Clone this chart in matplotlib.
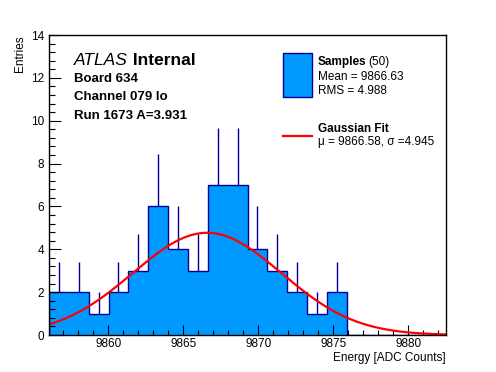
#!/usr/bin/env python3
"""
Pulse energy histogram for one board channel with a Gaussian fit overlay.
"""

import matplotlib
matplotlib.use("Agg")
import matplotlib.pyplot as plt
import numpy as np
from matplotlib.patches import Rectangle
from matplotlib.lines import Line2D
from matplotlib.ticker import MultipleLocator

plt.rcParams['font.family'] = ['Liberation Sans', 'DejaVu Sans']

# histogram binning (20 bins) and entries per bin
x_min = 9856.05
x_max = 9882.5
n_bins = 20
counts = [2, 2, 1, 2, 3, 6, 4, 3, 7, 7, 4, 3, 2, 1, 2, 0, 0, 0, 0, 0]

# gaussian fit parameters
fit_amp = 4.77
fit_mu = 9866.58
fit_sigma = 4.945

# annotation texts
header_lines = ["Board 634", "Channel 079 lo", "Run 1673 A=3.931"]
samples_lines = ["Mean = 9866.63", "RMS = 4.988"]
n_samples = 50
fit_line = "\u03bc = 9866.58, \u03c3 =4.945"

W, H = 496, 372
FILL = '#0099ff'
EDGE = '#000099'


def fx(px):
    return px / W


def fy(py):
    return 1 - py / H


fig = plt.figure(figsize=(W / 100, H / 100), dpi=100)
ax = fig.add_axes([fx(49), fy(335), 397 / W, 300 / H])

edges = np.linspace(x_min, x_max, n_bins + 1)
counts = np.array(counts, dtype=float)
centers = 0.5 * (edges[:-1] + edges[1:])

# filled histogram + outline
ax.stairs(counts, edges, fill=True, color=FILL, baseline=0)
ax.stairs(counts, edges, color=EDGE, linewidth=1.0, baseline=0)

# upper error bars (sqrt N)
nz = counts > 0
ax.vlines(centers[nz], counts[nz], counts[nz] + np.sqrt(counts[nz]),
          color=EDGE, linewidth=1.0)

# gaussian fit curve
xs = np.linspace(x_min, x_max, 200)
ys = fit_amp * np.exp(-0.5 * ((xs - fit_mu) / fit_sigma) ** 2)
ax.plot(xs, ys, color='#ff0000', linewidth=1.6)

ax.set_xlim(x_min, x_max)
ax.set_ylim(0, 14)
ax.xaxis.set_major_locator(MultipleLocator(5))
ax.xaxis.set_minor_locator(MultipleLocator(1))
ax.yaxis.set_major_locator(MultipleLocator(2))
ax.yaxis.set_minor_locator(MultipleLocator(0.4))
ax.tick_params(axis='both', which='both', direction='in', top=False, right=False,
               labelsize=8.5, width=0.8)
ax.tick_params(axis='x', which='major', length=7.2, pad=2.0)
ax.tick_params(axis='x', which='minor', length=3.6)
ax.tick_params(axis='y', which='major', length=8.6, pad=3.5)
ax.tick_params(axis='y', which='minor', length=4.3)
for s in ax.spines.values():
    s.set_linewidth(1.0)

# axis titles
fig.text(fx(446), fy(358), "Energy [ADC Counts]", ha='right', va='center', fontsize=8.5)
fig.text(fx(20), fy(35), "Entries", ha='center', va='top', rotation=90, fontsize=8.5)

# ATLAS label and run info
t_atlas = fig.text(fx(74), fy(65), "ATLAS", style='italic', fontsize=12.5,
                   ha='left', va='baseline')
ax.annotate(" Internal", xy=(1, 0), xycoords=t_atlas, ha='left', va='bottom',
            fontsize=12.5, fontweight='bold')
for i, line in enumerate(header_lines):
    fig.text(fx(74), fy(82 + 18.5 * i), line, fontweight='bold', fontsize=9.5,
             ha='left', va='baseline')

# legend
fig.add_artist(Rectangle((fx(283), fy(97)), 29 / W, 44 / H, transform=fig.transFigure,
                         facecolor=FILL, edgecolor=EDGE, linewidth=1.0))
t_samp = fig.text(fx(318), fy(62), "Samples", fontweight='bold', fontsize=8.5,
                  ha='left', va='center')
ax.annotate("(%d)" % n_samples, xy=(1, 0), xycoords=t_samp, ha='left', va='bottom',
            xytext=(1.0, 0), textcoords='offset points', fontsize=8.5)
for i, line in enumerate(samples_lines):
    fig.text(fx(318), fy(77 + 13.5 * i), line, fontsize=8.5, ha='left', va='center')

fig.add_artist(Line2D([fx(283), fx(312)], [fy(136), fy(136)], transform=fig.transFigure,
                      color='#ff0000', linewidth=1.6))
fig.text(fx(318), fy(129), "Gaussian Fit", fontweight='bold', fontsize=8.5,
         ha='left', va='center')
fig.text(fx(318), fy(141.5), fit_line, fontsize=8.5, ha='left', va='center')

fig.savefig("out.png", dpi=100)
